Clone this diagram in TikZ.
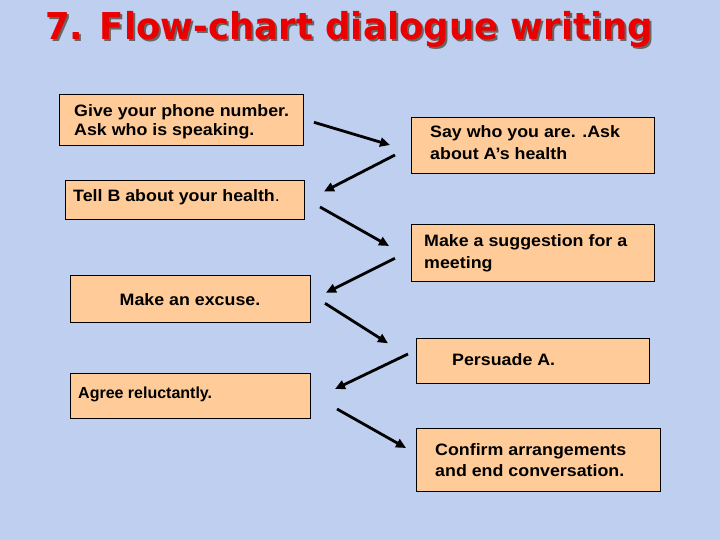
\documentclass[tikz,border=0pt]{standalone}
\usepackage{fontspec}
\setmainfont{Liberation Sans}[FakeStretch=1.08]
\newfontfamily\plainfont{Liberation Sans}
\newfontfamily\titlefont{DejaVu Sans}[FakeStretch=0.96]
\usetikzlibrary{arrows.meta}

\definecolor{slideblue}{RGB}{190,207,240}
\definecolor{peach}{RGB}{255,204,153}
\definecolor{titlered}{RGB}{235,0,0}

\tikzset{
  card/.style={draw=black, line width=0.9pt, fill=peach, inner sep=0pt, anchor=north west},
  say/.style={anchor=base west, align=left, inner sep=0pt, font=\bfseries\fontsize{16.5}{21.7}\selectfont},
  turn/.style={line width=2.8pt, -{Triangle[length=10pt,width=9pt]}},
  headline/.style={anchor=base west, inner sep=0pt, font=\titlefont\bfseries\fontsize{37}{40}\selectfont},
}

\begin{document}
\begin{tikzpicture}[x=1pt,y=-1pt]
  \fill[slideblue] (0,0) rectangle (720,540);
  \useasboundingbox (0,0) rectangle (720,540);

  % title and its shadow
  \node[headline, text=black!60] (title shadow) at (47,42) {7. Flow-chart dialogue writing};
  \node[headline, text=titlered] (title) at (45,40) {7. Flow-chart dialogue writing};

  % the cards, A on the left and B on the right
  \node[card, minimum width=244, minimum height=51] (phone) at (59,94) {};
  \node[card, minimum width=243, minimum height=56] (who) at (411,117) {};
  \node[card, minimum width=239, minimum height=39] (tell) at (65,180) {};
  \node[card, minimum width=243, minimum height=56.5] (suggest) at (411,224.5) {};
  \node[card, minimum width=240, minimum height=47] (excuse) at (70,275) {};
  \node[card, minimum width=233, minimum height=45] (persuade) at (416,338) {};
  \node[card, minimum width=240, minimum height=45] (agree) at (70,372.5) {};
  \node[card, minimum width=244, minimum height=63] (confirm) at (416,428) {};

  % what is said on each card (two-line texts sit on their last line)
  \node[say, font=\bfseries\fontsize{16.5}{19}\selectfont] (phone text) at (74,135.7)
    {Give your phone number.\\Ask who is speaking.};
  \node[say] (who text) at (430,159.2) {Say who you are. .Ask\\about A’s health};
  \node[say] (tell text) at (73,201.7) {Tell B about your health{\mdseries.}};
  \node[say] (suggest text) at (424,268.4) {Make a suggestion for a\\meeting};
  \node[say, anchor=base] (excuse text) at (190,305) {Make an excuse.};
  \node[say] (persuade text) at (452,365) {Persuade A.};
  \node[say, font=\plainfont\bfseries\fontsize{16}{20}\selectfont] (agree text) at (78,398.5) {Agree reluctantly.};
  \node[say] (confirm text) at (435,476.7) {Confirm arrangements\\and end conversation.};

  % the zigzag of turns
  \coordinate (t1 from) at (314,122.3); \coordinate (t1 to) at (390,145);
  \coordinate (t2 from) at (395,155);   \coordinate (t2 to) at (324,191.5);
  \coordinate (t3 from) at (320,207);   \coordinate (t3 to) at (389,246);
  \coordinate (t4 from) at (395,258.3); \coordinate (t4 to) at (326,292.7);
  \coordinate (t5 from) at (325,303.3); \coordinate (t5 to) at (388,343.3);
  \coordinate (t6 from) at (408,354);   \coordinate (t6 to) at (335,389);
  \coordinate (t7 from) at (337,409);   \coordinate (t7 to) at (406,448);
  \foreach \t in {1,...,7}
    \draw[turn] (t\t\space from) -- (t\t\space to);
\end{tikzpicture}
\end{document}
